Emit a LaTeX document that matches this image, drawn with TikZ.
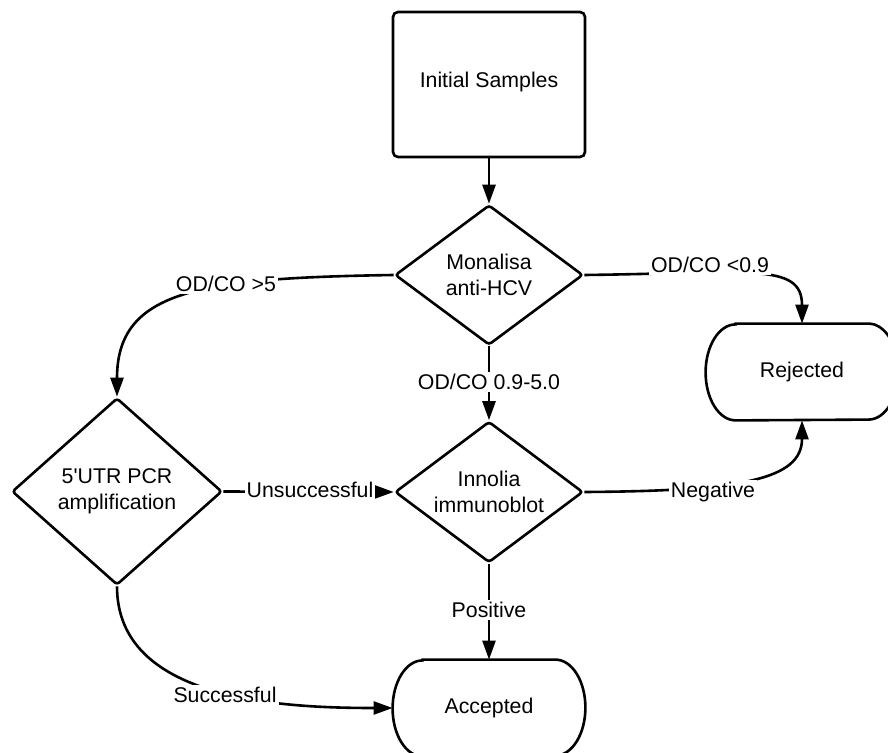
\documentclass[tikz,border=0pt]{standalone}
\usepackage{fontspec}
\setmainfont{Liberation Sans}
\usetikzlibrary{shapes.geometric,arrows.meta}
\begin{document}
\begin{tikzpicture}[x=0.5pt,y=-0.5pt,
  every node/.style={font=\fontsize{10.65pt}{12.8pt}\selectfont, text=black},
  line/.style={line width=1.3pt, draw=black},
  arr/.style={line, -{Triangle[length=9.5pt,width=6.5pt]}},
  box/.style={draw, line width=1.3pt, rounded corners=2.5pt, minimum width=96pt, minimum height=72.5pt, inner sep=0pt},
  dec/.style={draw, line width=1.3pt, diamond, inner sep=0pt, align=center, rounded corners=1.5pt},
  term/.style={minimum width=96pt, minimum height=48pt, inner sep=0pt},
  lbl/.style={fill=white, inner sep=1pt, text height=7.7pt, text depth=0pt}]
\useasboundingbox (0,0) rectangle (888,753);
% main nodes
\node[box, text height=7.7pt, text depth=4.2pt] (init) at (489,84.5) {Initial Samples};
\node[dec, minimum width=94pt, minimum height=70pt, shape aspect=1.34] (mona) at (489,275) {Monalisa\\anti-HCV};
\node[dec, minimum width=105pt, minimum height=93.5pt, shape aspect=1.12] (pcr) at (117,491.5) {5\textquotesingle UTR PCR\\amplification};
\node[dec, minimum width=94pt, minimum height=70.5pt, shape aspect=1.33] (inno) at (489,492) {Innolia\\immunoblot};
\node[term] (rej) at (802,372) {Rejected};
\node[term, text height=7.7pt, text depth=2.5pt] (acc) at (489,708) {Accepted};
% terminator outlines
\draw[line] ([xshift=15pt]rej.north west) -- ([xshift=-15pt]rej.north east)
  arc[start angle=90,end angle=-90,x radius=15pt,y radius=24pt]
  -- ([xshift=15pt]rej.south west)
  arc[start angle=270,end angle=90,x radius=15pt,y radius=24pt] -- cycle;
\draw[line] ([xshift=15pt]acc.north west) -- ([xshift=-15pt]acc.north east)
  arc[start angle=90,end angle=-90,x radius=15pt,y radius=24pt]
  -- ([xshift=15pt]acc.south west)
  arc[start angle=270,end angle=90,x radius=15pt,y radius=24pt] -- cycle;
% connectors
\draw[arr] (init.south) -- (mona.north);
\draw[arr] (mona.east) .. controls (750,273) and (802,262) .. (rej.north);
\draw[arr] (mona.west) .. controls (200,278) and (117,290) .. (pcr.north);
\draw[arr] (mona.south) -- (inno.north);
\draw[arr] (pcr.east) -- (inno.west);
\draw[arr] (inno.east) .. controls (740,491) and (802,480) .. (rej.south);
\draw[arr] (inno.south) -- (acc.north);
\draw[arr] (pcr.south) .. controls (117,700) and (280,708) .. (acc.west);
% labels
\node[lbl] (l1) at (710,265) {OD/CO <0.9};
\node[lbl] (l2) at (226,284) {OD/CO >5};
\node[lbl] (l3) at (489,382) {OD/CO 0.9-5.0};
\node[lbl] (l4) at (310,490) {Unsuccessful};
\node[lbl] (l5) at (713,490) {Negative};
\node[lbl] (l6) at (489,610) {Positive};
\node[lbl] (l7) at (225,695) {Successful};
\end{tikzpicture}
\end{document}
